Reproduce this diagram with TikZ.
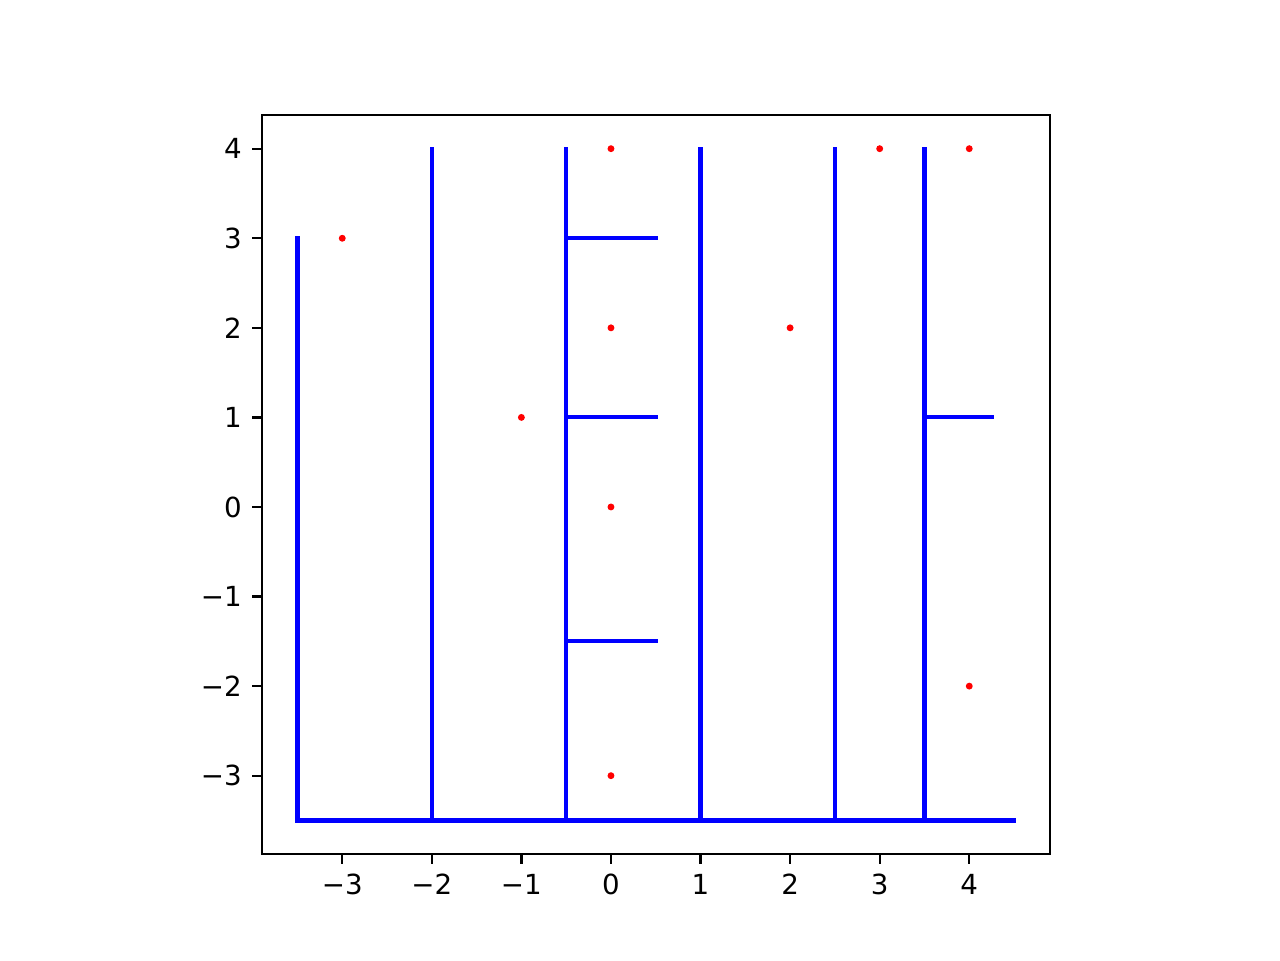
\documentclass[tikz,border=0pt]{standalone}
\usepackage{fontspec}
\setmainfont{DejaVu Sans}
\usepackage{tikz}
\tikzset{
  wall/.style   = {draw=blue, line width=1.5pt, line cap=rect},
  spot/.style   = {fill=red},
  frame/.style  = {draw=black, line width=0.8pt},
  tick/.style   = {draw=black, line width=0.8pt},
  ticklbl/.style = {font=\fontsize{10}{12}\selectfont, inner sep=0pt},
}
\begin{document}
\begin{tikzpicture}[x=1.1375cm, y=1.1375cm]
\useasboundingbox (-6.821,-5.058) rectangle (7.469,5.660);

% ---------- axes frame and ticks ----------
\draw[frame] (-3.9,-3.875) rectangle (4.9,4.375);
\foreach \v/\t in {-3/−3,-2/−2,-1/−1,0/0,1/1,2/2,3/3,4/4} {
  \draw[tick] (\v,-3.875) -- ++(0,-3.5pt);
  \node[ticklbl, anchor=north] (xl\v) at ([yshift=-7pt]\v,-3.875) {\t};
  \draw[tick] (-3.9,\v) -- ++(-3.5pt,0);
  \node[ticklbl, anchor=east] (yl\v) at ([xshift=-7pt]-3.9,\v) {\t};
}

% ---------- walls ----------
\draw[wall] (-3.5,3) -- (-3.5,-3.5) -- (4.5,-3.5);
\foreach \x in {-2,-0.5,1,2.5,3.5}
  \draw[wall] (\x,-3.5) -- (\x,4);
\foreach \y in {3,1,-1.5}
  \draw[wall] (-0.5,\y) -- (0.5,\y);
\draw[wall] (3.5,1) -- (4.25,1);

% ---------- points ----------
\foreach \p in {(-3,3),(0,4),(0,2),(-1,1),(0,0),(0,-3),(2,2),(3,4),(4,4),(4,-2)}
  \fill[spot] \p circle (1.25pt);

\end{tikzpicture}
\end{document}
